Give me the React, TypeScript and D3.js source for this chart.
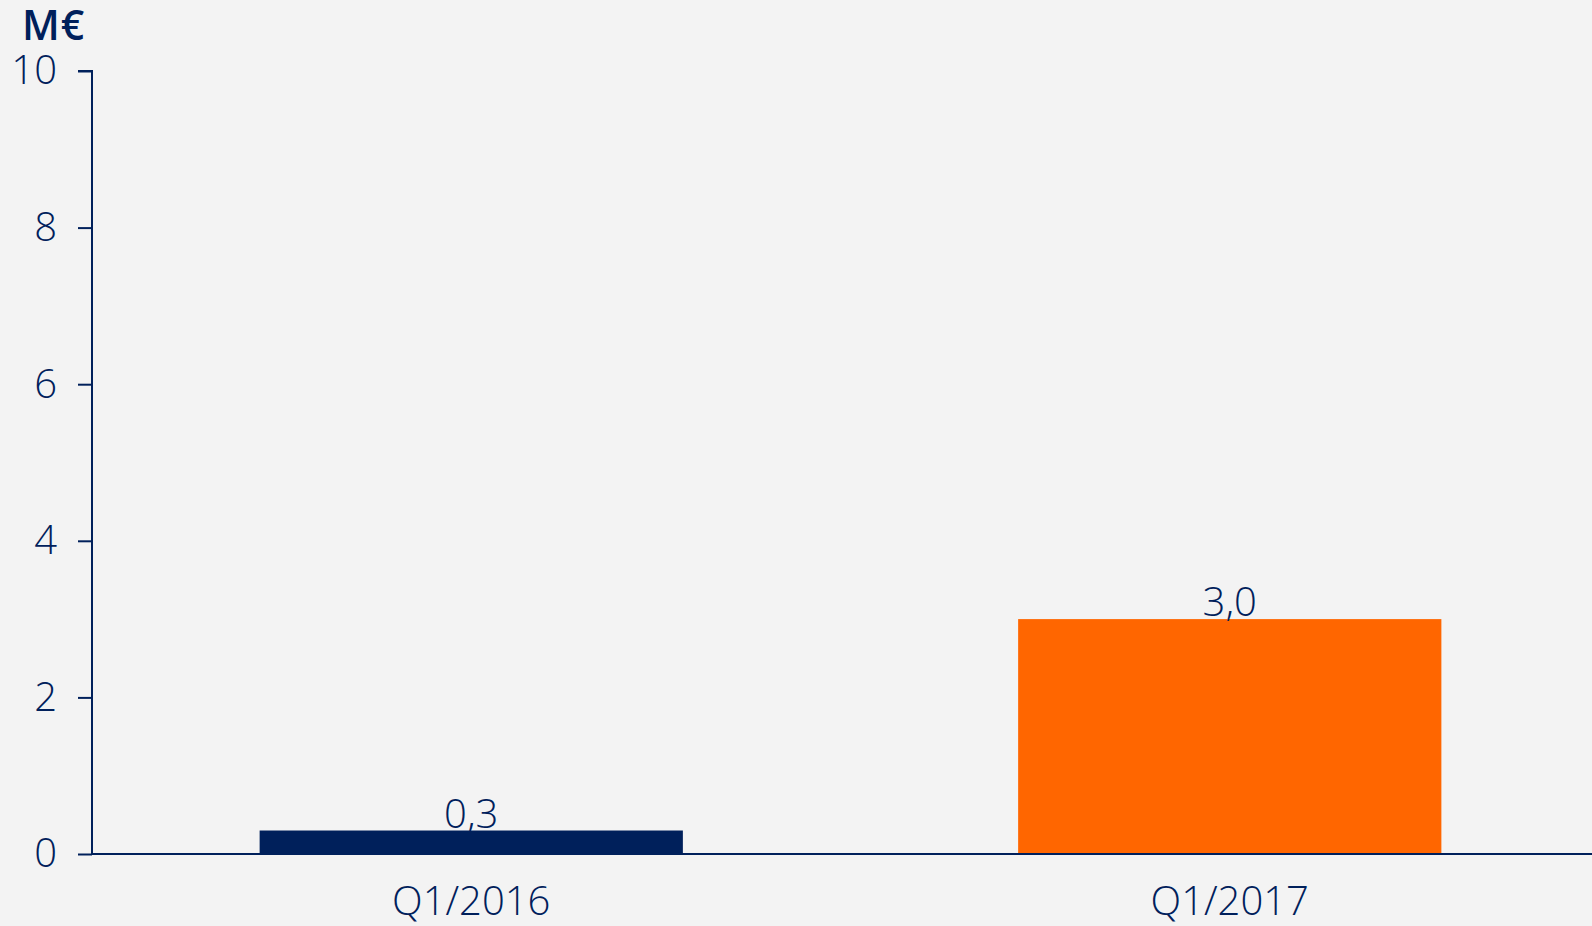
import React, {useEffect, useRef} from 'react';
import {select, scaleBand, scaleLinear, axisLeft, axisBottom} from 'd3';

const categories = ['Q1/2016', 'Q1/2017'];
const values = [0.3, 3.0];
const valueLabels = ['0,3', '3,0'];
const barColors = ['#00205b', '#ff6600'];
const yTicks = [0, 2, 4, 6, 8, 10];
const unitLabel = 'M€';

const App = () => {
  const svgRef = useRef(null);

  useEffect(() => {
    document.body.style.margin = '0';
    const svg = select(svgRef.current);
    svg.selectAll('*').remove();

    const width = 1592;
    const height = 926;
    const navy = '#00205b';
    const font = "'Open Sans', sans-serif";
    const fs = 40;

    svg.append('rect').attr('width', width).attr('height', height).attr('fill', '#f3f3f3');

    const x = scaleBand()
      .domain(categories)
      .range([92, 1609])
      .paddingInner(0.442)
      .paddingOuter(0.221);

    const y = scaleLinear().domain([0, 10]).range([854, 71]);

    // bars
    svg.selectAll('rect.bar')
      .data(values)
      .join('rect')
      .attr('class', 'bar')
      .attr('x', (d, i) => x(categories[i]))
      .attr('width', x.bandwidth())
      .attr('y', d => y(d))
      .attr('height', d => y(0) - y(d))
      .attr('fill', (d, i) => barColors[i]);

    // value labels
    svg.selectAll('text.val')
      .data(values)
      .join('text')
      .attr('class', 'val')
      .attr('x', (d, i) => x(categories[i]) + x.bandwidth() / 2)
      .attr('y', d => y(d) - 3)
      .attr('text-anchor', 'middle')
      .attr('font-family', font)
      .attr('font-weight', 300)
      .attr('font-size', fs)
      .attr('fill', navy)
      .text((d, i) => valueLabels[i]);

    // y axis
    const yAxis = svg.append('g')
      .attr('transform', 'translate(92,0)')
      .call(axisLeft(y).tickValues(yTicks).tickSize(14).tickPadding(21).tickFormat(d => String(d)));
    yAxis.select('.domain').attr('stroke', navy).attr('stroke-width', 2).attr('d', `M-14,${y(10)}H0V${y(0)}`);
    yAxis.selectAll('.tick line').attr('stroke', navy).attr('stroke-width', 2);
    yAxis.selectAll('.tick text')
      .attr('font-family', font)
      .attr('font-weight', 300)
      .attr('font-size', fs)
      .attr('fill', navy);

    // x axis
    const xAxis = svg.append('g')
      .attr('transform', `translate(0,${y(0)})`)
      .call(axisBottom(x).tickSize(0).tickPadding(33));
    xAxis.select('.domain').attr('stroke', navy).attr('stroke-width', 2).attr('d', `M92,0H${width}`);
    xAxis.selectAll('.tick text')
      .attr('font-family', font)
      .attr('font-weight', 300)
      .attr('font-size', fs)
      .attr('fill', navy);

    // unit title
    svg.append('text')
      .attr('x', 22)
      .attr('y', 40)
      .attr('font-family', font)
      .attr('font-weight', 600)
      .attr('font-size', 41)
      .attr('letter-spacing', 1)
      .attr('fill', navy)
      .text(unitLabel);
  }, []);

  return (
    <svg ref={svgRef} width="1592" height="926" style={{position: 'absolute', left: 0, top: 0, display: 'block'}}></svg>
  );
};

export default App;
